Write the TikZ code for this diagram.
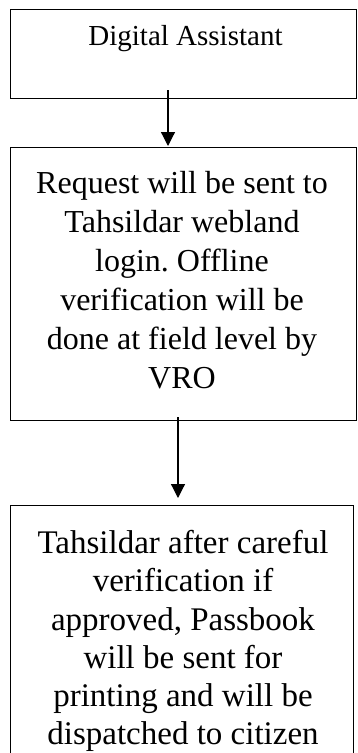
\documentclass[tikz,border=0pt]{standalone}
\usepackage{fontspec}
\setmainfont{Liberation Serif}
\usetikzlibrary{arrows.meta}
\frenchspacing
\begin{document}
\begin{tikzpicture}[x=1pt,y=-1pt,
  box/.style={draw=black,line width=1.2pt,inner sep=0pt,anchor=north west},
  txt/.style={align=center,inner sep=0pt,text=black},
  arr/.style={line width=1.2pt,-{Triangle[width=14pt,length=14pt]}}]
\useasboundingbox (0,0) rectangle (357,753);
\clip (0,0) rectangle (357,753);
\node[box,minimum width=346pt,minimum height=89pt] (b1) at (10,9) {};
\node[box,minimum width=346pt,minimum height=273pt] (b2) at (10,147) {};
\node[box,minimum width=343pt,minimum height=280pt] (b3) at (10,505) {};
\node[txt,font=\fontsize{29}{31}\selectfont] (t1) at (185.5,39) {Digital Assistant};
\node[txt,font=\fontsize{32}{39}\selectfont] (t2) at (182,280) {Request will be sent to\\Tahsildar webland\\login. Offline\\verification will be\\done at field level by\\VRO};
\node[txt,font=\fontsize{33}{38.2}\selectfont] (t3) at (183,641) {Tahsildar after careful\\verification if\\approved, Passbook\\will be sent for\\printing and will be\\dispatched to citizen};
\coordinate (a1s) at (168,90);
\coordinate (a1e) at (168,146);
\coordinate (a2s) at (178,417);
\coordinate (a2e) at (178,498);
\draw[arr] (a1s) -- (a1e);
\draw[arr] (a2s) -- (a2e);
\end{tikzpicture}
\end{document}
